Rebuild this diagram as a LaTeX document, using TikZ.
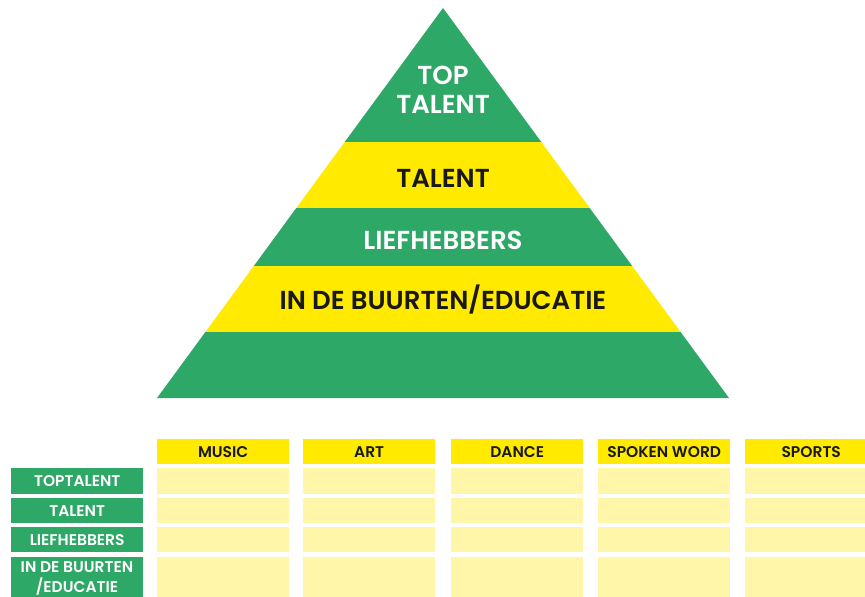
\documentclass[tikz,border=0pt]{standalone}
\usepackage{fontspec}
\setmainfont{Poppins}[BoldFont={Poppins SemiBold}]
\definecolor{pgreen}{RGB}{46,168,102}
\definecolor{pyellow}{RGB}{255,234,0}
\definecolor{cellyel}{RGB}{255,246,170}
\definecolor{darktxt}{RGB}{25,25,25}
\begin{document}
\begin{tikzpicture}[x=1pt,y=-1pt,
  bigtxt/.style={font=\fontsize{26}{29}\selectfont\bfseries, align=center, inner sep=0pt},
  smalltxt/.style={font=\fontsize{15.5}{20}\selectfont\bfseries, align=center, inner sep=0pt},
  lbl/.style={fill=pgreen, text=white, inner sep=0pt, anchor=north west},
  hdr/.style={fill=pyellow, inner sep=0pt, anchor=north west},
  cell/.style={fill=cellyel, inner sep=0pt, anchor=north west}]
\useasboundingbox[fill=white] (0,0) rectangle (865,597);
% pyramid bands
\fill[pgreen] (443,8) -- (541.3,142) -- (344.7,142) -- cycle;
\fill[pyellow] (344.7,142) -- (541.3,142) -- (589.7,208) -- (296.3,208) -- cycle;
\fill[pgreen] (296.3,208) -- (589.7,208) -- (632.2,266) -- (253.8,266) -- cycle;
\fill[pyellow] (253.8,266) -- (632.2,266) -- (680.6,332) -- (205.4,332) -- cycle;
\fill[pgreen] (205.4,332) -- (680.6,332) -- (729,398) -- (157,398) -- cycle;
\node[bigtxt, text=white] (ttop) at (443,90) {TOP\\TALENT};
\node[bigtxt, text=darktxt] (ttal) at (443,178) {TALENT};
\node[bigtxt, text=white] (tlief) at (443,240) {LIEFHEBBERS};
\node[bigtxt, text=darktxt] (tbuurt) at (443,300) {IN DE BUURTEN/EDUCATIE};
% table headers
\foreach \x/\t [count=\i] in {157/MUSIC,303/ART,451/DANCE,598/SPOKEN WORD,745/SPORTS}{
  \node[hdr, minimum width=132pt, minimum height=25pt] (h\i) at (\x,439) {};
  \node[smalltxt, text=darktxt] at (h\i.center) {\t};
  \node[cell, minimum width=132pt, minimum height=26pt] (c\i a) at (\x,468) {};
  \node[cell, minimum width=132pt, minimum height=25pt] (c\i b) at (\x,498) {};
  \node[cell, minimum width=132pt, minimum height=25pt] (c\i c) at (\x,527) {};
  \node[cell, minimum width=132pt, minimum height=45pt] (c\i d) at (\x,557) {};
}
% row labels
\node[lbl, minimum width=132pt, minimum height=26pt] (l1) at (11,468) {};
\node[smalltxt, text=white] at (l1.center) {TOPTALENT};
\node[lbl, minimum width=132pt, minimum height=25pt] (l2) at (11,498) {};
\node[smalltxt, text=white] at (l2.center) {TALENT};
\node[lbl, minimum width=132pt, minimum height=25pt] (l3) at (11,527) {};
\node[smalltxt, text=white] at (l3.center) {LIEFHEBBERS};
\node[lbl, minimum width=132pt, minimum height=45pt] (l4) at (11,557) {};
\node[smalltxt, text=white, anchor=north] at (77,561) {IN DE BUURTEN\\/EDUCATIE};
\end{tikzpicture}
\end{document}
